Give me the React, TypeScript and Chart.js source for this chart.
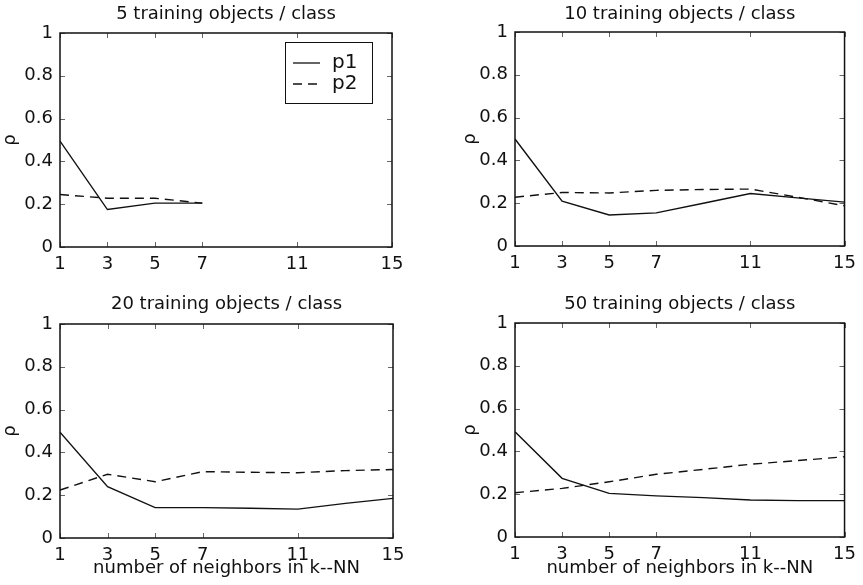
import React, { useEffect, useRef } from "react";
import { Chart, registerables } from "chart.js";

Chart.register(...registerables);

// ---- data ----
const K_N5 = [1, 3, 5, 7];
const K_ALL = [1, 3, 5, 7, 9, 11, 13, 15];
const X_TICKS = [1, 3, 5, 7, 11, 15];
const Y_TICKS = [0, 0.2, 0.4, 0.6, 0.8, 1];

const TITLE_5 = "5 training objects / class";
const TITLE_10 = "10 training objects / class";
const TITLE_20 = "20 training objects / class";
const TITLE_50 = "50 training objects / class";

const SERIES_LABELS = ["p1", "p2"];
const X_LABEL = "number of neighbors in k--NN";
const Y_LABEL = "ρ";

const P1_N5 = [0.495, 0.175, 0.205, 0.205];
const P2_N5 = [0.245, 0.228, 0.228, 0.205];

const P1_N10 = [0.5, 0.21, 0.145, 0.155, 0.2, 0.245, 0.225, 0.205];
const P2_N10 = [0.228, 0.25, 0.248, 0.26, 0.264, 0.266, 0.228, 0.188];

const P1_N20 = [0.494, 0.24, 0.142, 0.142, 0.139, 0.135, 0.162, 0.185];
const P2_N20 = [0.224, 0.298, 0.263, 0.31, 0.307, 0.305, 0.315, 0.32];

const P1_N50 = [0.492, 0.274, 0.204, 0.192, 0.184, 0.173, 0.17, 0.17];
const P2_N50 = [0.207, 0.227, 0.258, 0.293, 0.316, 0.34, 0.357, 0.375];

const FONT = "'DejaVu Sans', 'Liberation Sans', sans-serif";
const INK = "#111";

type Box = { left: number; top: number; width: number; height: number };
type Plot = { l: number; t: number; r: number; b: number };

type PanelProps = {
  title: string;
  ks: number[];
  p1: number[];
  p2: number[];
  box: Box;
  plot: Plot;
  titleY: number;
  yTitlePad: number;
  showXLabel: boolean;
  showLegend: boolean;
};

function Panel(props: PanelProps) {
  const ref = useRef<HTMLCanvasElement>(null);

  useEffect(() => {
    const { box, plot, title, ks, p1, p2, titleY, yTitlePad, showXLabel, showLegend } = props;
    const yW = plot.l - box.left;
    const xH = box.top + box.height - plot.b;
    const padR = box.left + box.width - plot.r;
    const padT = plot.t - box.top;

    const framePlugin = {
      id: "frame",
      afterDraw(chart: any) {
        const ctx = chart.ctx as CanvasRenderingContext2D;
        const a = chart.chartArea;
        const xs = chart.scales.x;
        const ys = chart.scales.y;
        ctx.save();
        // inner tick marks on all four sides
        ctx.strokeStyle = "#666";
        ctx.lineWidth = 1;
        ctx.beginPath();
        X_TICKS.forEach((v) => {
          const px = Math.round(xs.getPixelForValue(v)) + 0.5;
          ctx.moveTo(px, a.bottom);
          ctx.lineTo(px, a.bottom - 5);
          ctx.moveTo(px, a.top);
          ctx.lineTo(px, a.top + 5);
        });
        Y_TICKS.forEach((v) => {
          const py = Math.round(ys.getPixelForValue(v)) + 0.5;
          ctx.moveTo(a.left, py);
          ctx.lineTo(a.left + 5, py);
          ctx.moveTo(a.right, py);
          ctx.lineTo(a.right - 5, py);
        });
        ctx.stroke();
        // frame
        ctx.strokeStyle = INK;
        ctx.lineWidth = 1.5;
        ctx.strokeRect(a.left, a.top, a.right - a.left, a.bottom - a.top);
        // title
        ctx.fillStyle = INK;
        ctx.font = `18px ${FONT}`;
        ctx.textAlign = "center";
        ctx.textBaseline = "middle";
        ctx.fillText(title, (a.left + a.right) / 2, titleY);
        // legend
        if (showLegend) {
          const bx = a.right - 107;
          const by = a.top + 9;
          ctx.lineWidth = 1;
          ctx.strokeStyle = INK;
          ctx.strokeRect(bx + 0.5, by + 0.5, 87, 61);
          ctx.lineWidth = 1.3;
          const rows = [a.top + 30, a.top + 51];
          rows.forEach((ry, i) => {
            ctx.setLineDash(i === 0 ? [] : [9, 6]);
            ctx.beginPath();
            ctx.moveTo(bx + 8, ry);
            ctx.lineTo(bx + 35, ry);
            ctx.stroke();
          });
          ctx.setLineDash([]);
          ctx.font = `20px ${FONT}`;
          ctx.textAlign = "left";
          ctx.textBaseline = "middle";
          rows.forEach((ry, i) => {
            ctx.fillText(SERIES_LABELS[i], bx + 47, ry);
          });
        }
        ctx.restore();
      },
    };

    const chart = new Chart(ref.current as HTMLCanvasElement, {
      type: "line",
      data: {
        datasets: [
          {
            label: SERIES_LABELS[0],
            data: ks.map((k, i) => ({ x: k, y: p1[i] })),
            borderColor: INK,
            borderWidth: 1.4,
            pointRadius: 0,
            fill: false,
            tension: 0,
          },
          {
            label: SERIES_LABELS[1],
            data: ks.map((k, i) => ({ x: k, y: p2[i] })),
            borderColor: INK,
            borderWidth: 1.4,
            borderDash: [9, 6],
            pointRadius: 0,
            fill: false,
            tension: 0,
          },
        ],
      },
      options: {
        animation: false,
        responsive: false,
        devicePixelRatio: 1,
        layout: { padding: { left: 0, right: padR, top: padT, bottom: 0 } },
        plugins: {
          legend: { display: false },
          title: { display: false },
          tooltip: { enabled: false },
        },
        scales: {
          x: {
            type: "linear",
            min: 1,
            max: 15,
            grid: { display: false, drawTicks: false },
            border: { display: false },
            afterBuildTicks: (s: any) => {
              s.ticks = X_TICKS.map((v) => ({ value: v }));
            },
            afterFit: (s: any) => {
              s.height = xH;
            },
            ticks: {
              autoSkip: false,
              maxRotation: 0,
              padding: 7,
              color: INK,
              font: { family: FONT, size: 18 },
              callback: (v: any) => String(v),
            },
            title: {
              display: showXLabel,
              text: X_LABEL,
              color: INK,
              font: { family: FONT, size: 18 },
              padding: { top: 0, bottom: 6 },
            },
          },
          y: {
            type: "linear",
            min: 0,
            max: 1,
            grid: { display: false, drawTicks: false },
            border: { display: false },
            afterBuildTicks: (s: any) => {
              s.ticks = Y_TICKS.map((v) => ({ value: v }));
            },
            afterFit: (s: any) => {
              s.width = yW;
            },
            ticks: {
              padding: 7,
              color: INK,
              font: { family: FONT, size: 18 },
              callback: (v: any) => String(Math.round(Number(v) * 10) / 10),
            },
            title: {
              display: true,
              text: Y_LABEL,
              color: INK,
              font: { family: FONT, size: 18 },
              padding: { top: yTitlePad, bottom: 0 },
            },
          },
        },
      },
      plugins: [framePlugin],
    } as any);

    return () => chart.destroy();
  }, []);

  const { box } = props;
  return (
    <canvas
      ref={ref}
      width={box.width}
      height={box.height}
      style={{ position: "absolute", left: box.left, top: box.top, width: box.width, height: box.height }}
    />
  );
}

export default function App() {
  return (
    <div style={{ position: "absolute", left: 0, top: 0, width: 863, height: 585, background: "#fff", overflow: "hidden" }}>
      <Panel
        title={TITLE_5}
        ks={K_N5}
        p1={P1_N5}
        p2={P2_N5}
        box={{ left: 0, top: 0, width: 432, height: 290 }}
        plot={{ l: 60, t: 33, r: 392, b: 247 }}
        titleY={14}
        yTitlePad={0}
        showXLabel={false}
        showLegend={true}
      />
      <Panel
        title={TITLE_10}
        ks={K_ALL}
        p1={P1_N10}
        p2={P2_N10}
        box={{ left: 455, top: 0, width: 408, height: 290 }}
        plot={{ l: 515, t: 32, r: 847, b: 246 }}
        titleY={14}
        yTitlePad={5}
        showXLabel={false}
        showLegend={false}
      />
      <Panel
        title={TITLE_20}
        ks={K_ALL}
        p1={P1_N20}
        p2={P2_N20}
        box={{ left: 0, top: 290, width: 432, height: 295 }}
        plot={{ l: 60, t: 324, r: 393, b: 538 }}
        titleY={14}
        yTitlePad={0}
        showXLabel={true}
        showLegend={false}
      />
      <Panel
        title={TITLE_50}
        ks={K_ALL}
        p1={P1_N50}
        p2={P2_N50}
        box={{ left: 455, top: 290, width: 408, height: 295 }}
        plot={{ l: 515, t: 323, r: 847, b: 537 }}
        titleY={14}
        yTitlePad={5}
        showXLabel={true}
        showLegend={false}
      />
    </div>
  );
}
